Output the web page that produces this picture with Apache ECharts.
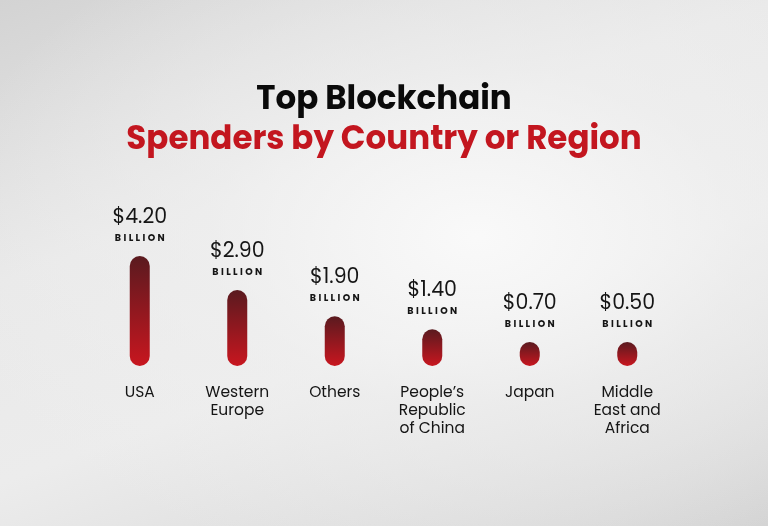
<!DOCTYPE html>
<html>
<head>
<meta charset="utf-8">
<script src="https://cdn.jsdelivr.net/npm/echarts@6/dist/echarts.min.js"></script>
<style>
  html, body { margin: 0; padding: 0; }
  #box01 {
    width: 768px; height: 526px;
    background:
      radial-gradient(ellipse 70% 65% at 62% 45%, rgba(250,250,250,0.95) 0%, rgba(240,240,240,0.6) 50%, rgba(230,230,230,0) 100%),
      linear-gradient(160deg, #d3d3d3 0%, #e9e9e9 35%, #ececec 60%, #d4d4d4 100%);
  }
</style>
</head>
<body>
<div id="box01"></div>
<script>
// 数据
var categories = ['USA', 'Western\nEurope', 'Others', 'People\u2019s\nRepublic\nof China', 'Japan', 'Middle\nEast and\nAfrica'];
var spending = [4.20, 2.90, 1.90, 1.40, 0.70, 0.50];
var unitLabel = 'B\u2005I\u2005L\u2005L\u2005I\u2005O\u2005N';

var fontMain = 'Poppins, Inter, "Noto Sans", sans-serif';

var myChart = echarts.init(document.getElementById('box01'));

var option = {
    title: [
        {
            text: 'Top Blockchain',
            left: 'center', top: 79,
            textStyle: { color: '#0a0a0a', fontSize: 32.5, fontWeight: 'bold', fontFamily: fontMain }
        },
        {
            text: 'Spenders by Country or Region',
            left: 'center', top: 119,
            textStyle: { color: '#c3161f', fontSize: 32.5, fontWeight: 'bold', fontFamily: fontMain }
        }
    ],
    grid: { left: 91, right: 92, top: 256, bottom: 160 },
    xAxis: {
        type: 'category',
        data: categories,
        axisLine: { show: false },
        axisTick: { show: false },
        axisLabel: {
            interval: 0,
            margin: 18,
            color: '#151515',
            fontSize: 15.5,
            lineHeight: 18,
            fontFamily: fontMain
        }
    },
    yAxis: {
        type: 'value',
        min: 0,
        max: 4.2,
        show: false,
        splitLine: { show: false }
    },
    series: [
        {
            type: 'bar',
            data: spending,
            barWidth: 20,
            barMinHeight: 24,
            itemStyle: {
                borderRadius: 10,
                color: new echarts.graphic.LinearGradient(0, 0, 0, 1, [
                    { offset: 0, color: '#5a1a1f' },
                    { offset: 1, color: '#c8161f' }
                ])
            },
            label: {
                show: true,
                position: 'top',
                distance: 11,
                formatter: function (p) {
                    return '{v|$' + p.value.toFixed(2) + '}\n{b|' + unitLabel + '}';
                },
                rich: {
                    v: { fontSize: 20.5, lineHeight: 28, color: '#151515', fontFamily: fontMain },
                    b: { fontSize: 9.5, lineHeight: 13, fontWeight: 'bold', color: '#151515', fontFamily: fontMain }
                }
            }
        }
    ]
};

myChart.setOption(option);
</script>
</body>
</html>
